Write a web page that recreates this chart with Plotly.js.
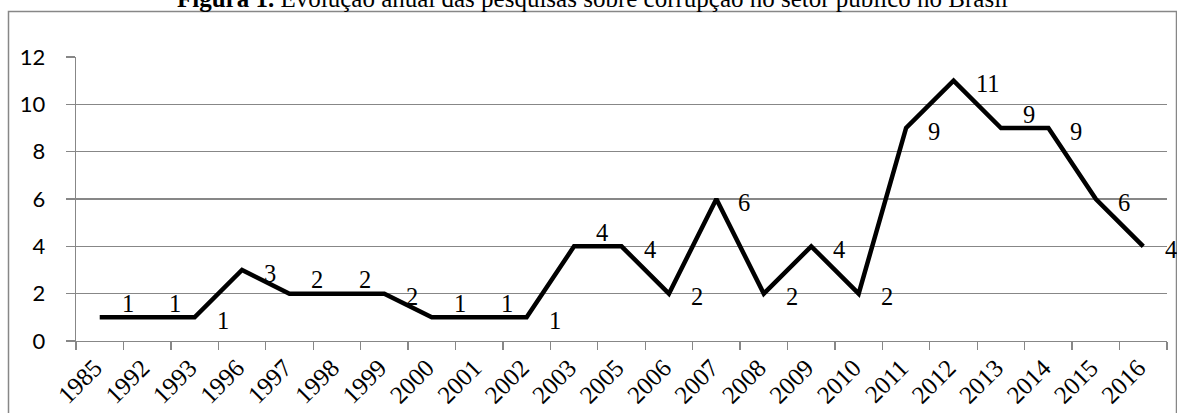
<!DOCTYPE html>
<html>
<head>
<meta charset="utf-8">
<script src="https://cdn.plot.ly/plotly-3.0.1.min.js"></script>
<style>
html,body{margin:0;padding:0;background:#fff;}
#chart{width:1177px;height:413px;}
</style>
</head>
<body>
<div id="chart"></div>
<script>
// Data
const years = ['1985','1992','1993','1996','1997','1998','1999','2000','2001','2002','2003','2005','2006','2007','2008','2009','2010','2011','2012','2013','2014','2015','2016'];
const counts = [1,1,1,3,2,2,2,1,1,1,4,4,2,6,2,4,2,9,11,9,9,6,4];
const yTicks = [0,2,4,6,8,10,12];

const titleText = '<b>Figura 1.</b> Evolução anual das pesquisas sobre corrupção no setor público no Brasil';

const W = 1177, H = 413;
const M = {l: 76, r: 10, t: 57, b: 72};
const PW = W - M.l - M.r, PH = H - M.t - M.b;
const px2x = px => (px - M.l) / PW;
const py2y = py => (H - M.b - py) / PH;

const GRAY = '#878787';
const SERIF = 'Liberation Serif, Times New Roman, serif';

// Data labels: placed to the right; raised when the line continues flat to the right
const labelAnns = counts.map((v, i) => {
  const flat = i < counts.length - 1 && counts[i + 1] === v;
  return {
    x: i, y: v, xref: 'x', yref: 'y',
    text: String(v), showarrow: false,
    xanchor: 'left', yanchor: 'middle',
    xshift: 20, yshift: flat ? 14 : -3,
    font: {family: SERIF, size: 24.5, color: '#000'}
  };
});

const layout = {
  width: W, height: H,
  margin: M,
  paper_bgcolor: '#fff', plot_bgcolor: '#fff',
  showlegend: false,
  xaxis: {
    type: 'category',
    categoryorder: 'array', categoryarray: years,
    range: [-0.5, years.length - 0.5],
    tickson: 'boundaries',
    ticks: 'outside', ticklen: 8, tickwidth: 1.3, tickcolor: GRAY,
    showline: true, linecolor: GRAY, linewidth: 1.3,
    showgrid: false, zeroline: false,
    tickangle: -45,
    ticklabelstandoff: 1,
    ticklabelshift: -5,
    tickfont: {family: SERIF, size: 25, color: '#000'},
    fixedrange: true
  },
  yaxis: {
    range: [0, 12],
    tickvals: yTicks,
    ticks: 'outside', ticklen: 9, tickwidth: 1.3, tickcolor: GRAY,
    showline: true, linecolor: GRAY, linewidth: 1.3,
    showgrid: true, gridcolor: GRAY, gridwidth: 1.3,
    zeroline: false,
    ticklabelstandoff: 16,
    tickfont: {family: 'Lato, sans-serif', size: 22, color: '#000'},
    fixedrange: true
  },
  shapes: [{
    type: 'rect', xref: 'paper', yref: 'paper',
    x0: px2x(8.5), x1: px2x(1176.5), y0: py2y(430), y1: py2y(11.5),
    line: {color: GRAY, width: 1.5}, fillcolor: 'rgba(0,0,0,0)', layer: 'below'
  }],
  annotations: [{
    xref: 'paper', yref: 'paper',
    x: px2x(W / 2 + 4), y: py2y(14.5),
    xanchor: 'center', yanchor: 'bottom',
    text: titleText, showarrow: false,
    font: {family: SERIF, size: 25, color: '#000'}
  }].concat(labelAnns)
};

const trace = {
  type: 'scatter', mode: 'lines',
  x: years, y: counts,
  line: {color: '#000', width: 4.5},
  hoverinfo: 'skip', cliponaxis: false
};

Plotly.newPlot('chart', [trace], layout, {staticPlot: true, displayModeBar: false});
</script>
</body>
</html>
